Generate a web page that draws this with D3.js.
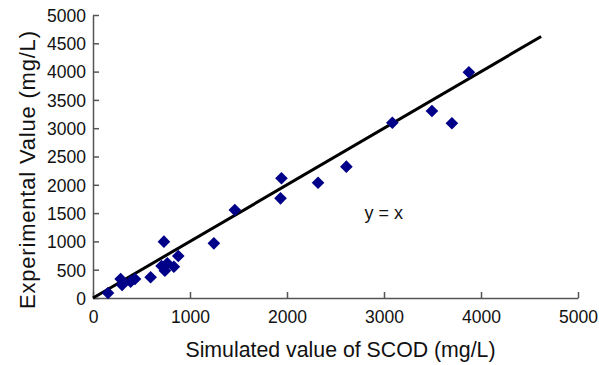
<!DOCTYPE html>
<html>
<head>
<meta charset="utf-8">
<script src="https://cdn.jsdelivr.net/npm/d3@7"></script>
<style>
  body { margin: 0; background: #fff; }
  svg { font-family: "Liberation Sans", Arial, sans-serif; }
</style>
</head>
<body>
<div id="chart"></div>
<script>
// simulated SCOD (x) vs experimental SCOD (y), mg/L
var simulated = [155, 285, 300, 388, 433, 594, 731, 707, 741, 766, 834, 879, 1246,
                 1462, 1943, 1933, 2320, 2612, 3086, 3494, 3700, 3875];
var experimental = [88, 336, 230, 288, 336, 366, 995, 565, 483, 613, 553, 742, 966,
                    1555, 2115, 1761, 2037, 2320, 3097, 3304, 3087, 3988];
var lineEnds = [0, 4620];
var xTicks = [0, 1000, 2000, 3000, 4000, 5000];
var yTicks = [0, 500, 1000, 1500, 2000, 2500, 3000, 3500, 4000, 4500, 5000];

var W = 599, H = 365;
var margin = {top: 15, right: 21, bottom: 67, left: 93},
    width = W - margin.left - margin.right,
    height = H - margin.top - margin.bottom;

var svg = d3.select("#chart")
    .append("svg")
    .attr("width", W)
    .attr("height", H);

var g = svg.append("g")
    .attr("transform", "translate(" + margin.left + "," + margin.top + ")");

var x = d3.scaleLinear().domain([0, 5000]).range([0, width]);
var y = d3.scaleLinear().domain([0, 5000]).range([height, 0]);

// axes, ticks pointing into the plot
var xAxis = g.append("g")
    .attr("transform", "translate(0," + height + ")")
    .call(d3.axisBottom(x).tickValues(xTicks).tickFormat(d3.format("d"))
        .tickSize(-6).tickPadding(13).tickSizeOuter(0));

var yAxis = g.append("g")
    .call(d3.axisLeft(y).tickValues(yTicks).tickFormat(d3.format("d"))
        .tickSize(-6).tickPadding(7).tickSizeOuter(0));

[xAxis, yAxis].forEach(function (a) {
    a.select(".domain").attr("stroke", "#555").attr("stroke-width", 1.5);
    a.selectAll(".tick line").attr("stroke", "#555").attr("stroke-width", 1.5);
    a.selectAll(".tick text")
        .attr("fill", "#111")
        .attr("font-size", "17.5px")
        .attr("font-family", "Liberation Sans, Arial, sans-serif");
});
yAxis.selectAll(".tick text").attr("dy", "0.36em");

// y = x line
g.append("line")
    .attr("x1", x(lineEnds[0]))
    .attr("y1", y(lineEnds[0]))
    .attr("x2", x(lineEnds[1]))
    .attr("y2", y(lineEnds[1]))
    .attr("stroke", "#000")
    .attr("stroke-width", 3);

// data points as diamonds
var diamond = d3.symbol().type(d3.symbolSquare).size(80);
var pts = simulated.map(function (v, i) { return [v, experimental[i]]; });

g.selectAll(".pt")
    .data(pts)
    .enter()
    .append("path")
    .attr("class", "pt")
    .attr("d", diamond)
    .attr("transform", function (d) {
        return "translate(" + x(d[0]) + "," + y(d[1]) + ") rotate(45)";
    })
    .attr("fill", "#000088");

// annotation
g.append("text")
    .attr("x", x(2800))
    .attr("y", y(1390))
    .attr("font-size", "18px")
    .attr("fill", "#111")
    .text("y = x");

// axis titles
svg.append("text")
    .attr("x", 340.5)
    .attr("y", 357)
    .attr("text-anchor", "middle")
    .attr("font-size", "21.3px")
    .attr("fill", "#111")
    .text("Simulated value of SCOD (mg/L)");

svg.append("text")
    .attr("transform", "translate(35,170) rotate(-90)")
    .attr("text-anchor", "middle")
    .attr("font-size", "22px")
    .attr("textLength", 278)
    .attr("lengthAdjust", "spacing")
    .attr("fill", "#111")
    .text("Experimental Value (mg/L)");
</script>
</body>
</html>
